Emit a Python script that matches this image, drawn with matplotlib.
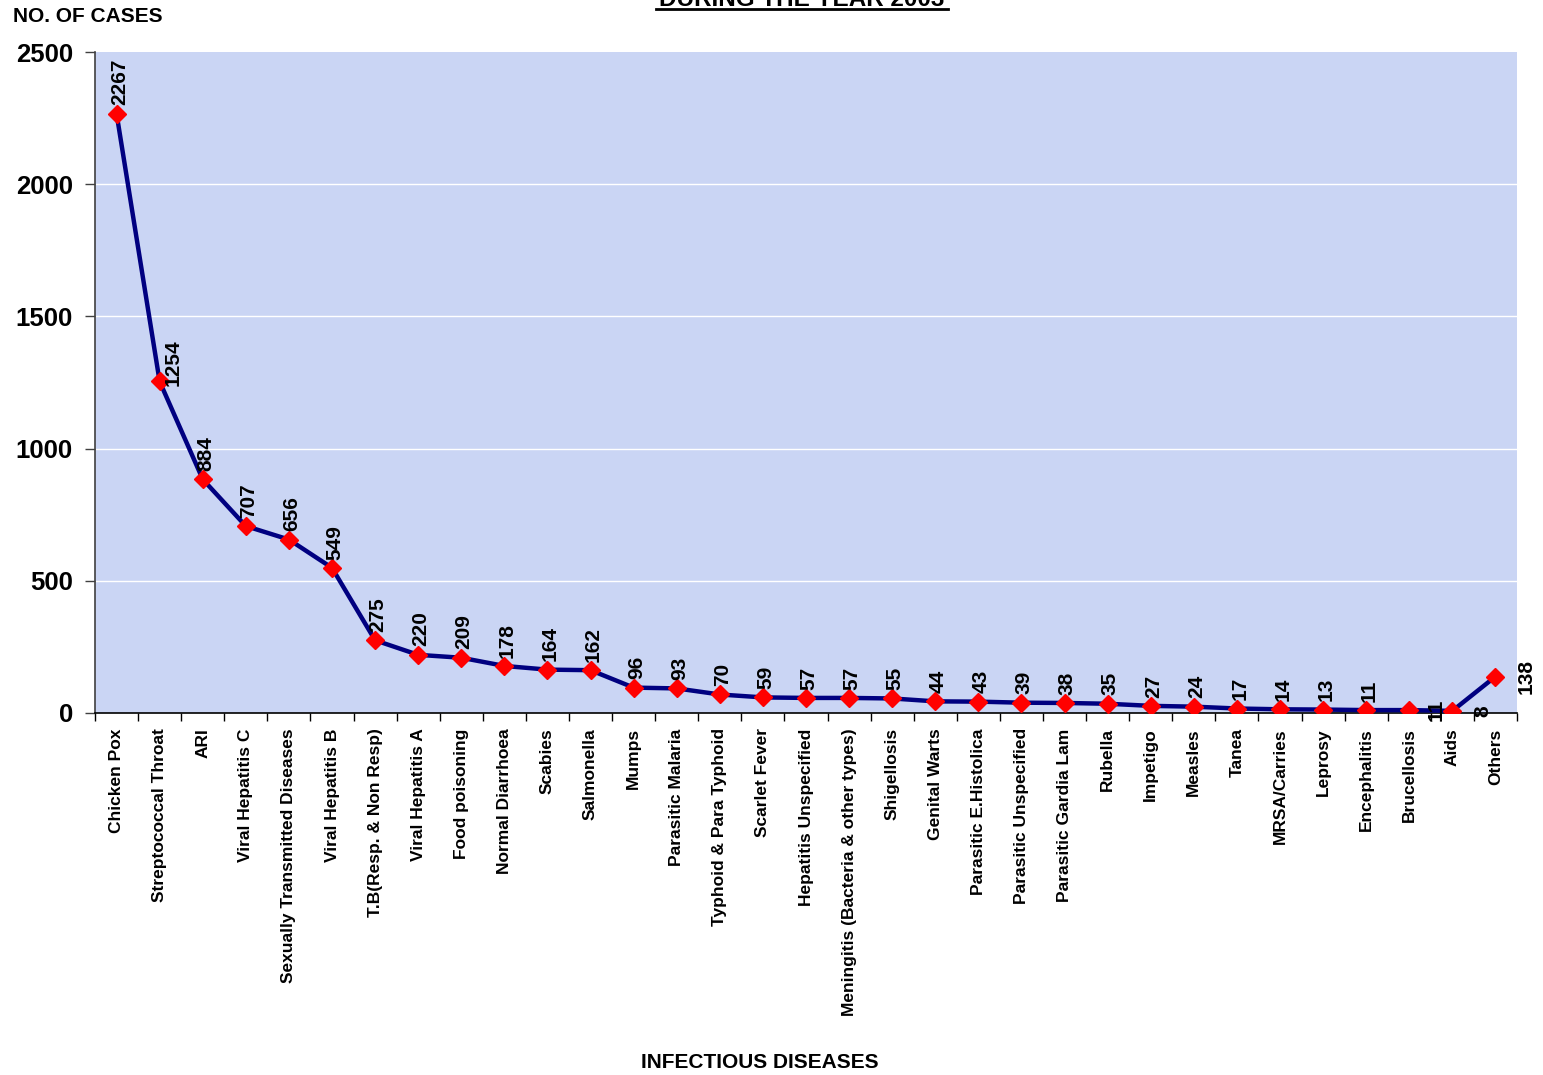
import matplotlib
matplotlib.use("Agg")
import matplotlib.pyplot as plt
from matplotlib.lines import Line2D
import numpy as np

diseases = ["Chicken Pox", "Streptococcal Throat", "ARI", "Viral Hepatitis C",
            "Sexually Transmitted Diseases", "Viral Hepatitis B", "T.B(Resp. & Non Resp)",
            "Viral Hepatitis A", "Food poisoning", "Normal Diarrhoea", "Scabies",
            "Salmonella", "Mumps", "Parasitic Malaria", "Typhoid & Para Typhoid",
            "Scarlet Fever", "Hepatitis Unspecified", "Meningitis (Bacteria & other types)",
            "Shigellosis", "Genital Warts", "Parasitic E.Histolica", "Parasitic Unspecified",
            "Parasitic Gardia Lam", "Rubella", "Impetigo", "Measles", "Tanea",
            "MRSA/Carries", "Leprosy", "Encephalitis", "Brucellosis", "Aids", "Others"]
cases = [2267, 1254, 884, 707, 656, 549, 275, 220, 209, 178, 164, 162, 96, 93, 70,
         59, 57, 57, 55, 44, 43, 39, 38, 35, 27, 24, 17, 14, 13, 11, 11, 8, 138]
y_ticks = [0, 500, 1000, 1500, 2000, 2500]

FONT = "Liberation Sans"
plt.rcParams['font.family'] = [FONT, 'DejaVu Sans']

fig = plt.figure(figsize=(15.43, 10.75), dpi=100)
ax = fig.add_axes([95/1543, 1 - 713/1075, (1517 - 95)/1543, (713 - 52)/1075])
ax.set_facecolor('#cad5f4')

x = np.arange(len(cases))
ax.set_xlim(-0.5, len(cases) - 0.5)
ax.set_ylim(0, 2500)

for yv in y_ticks[1:-1]:
    ax.axhline(yv, color='white', lw=1.0, zorder=1)

ax.plot(x, cases, color='#000080', lw=3.2, zorder=3)
ax.plot(x, cases, linestyle='none', marker='D', markersize=9.5,
        markerfacecolor='#ff0000', markeredgecolor='#ff0000', zorder=4)

# data labels (rotated); a few are shifted sideways as in the reference
side_offsets = {"Brucellosis": 19, "Aids": 22, "Others": 22}
for i, v in enumerate(cases):
    name = diseases[i]
    if name in side_offsets:
        ax.annotate(str(v), (i, v), xytext=(side_offsets[name], 0), textcoords='offset points',
                    rotation=90, ha='center', va='center', fontsize=15,
                    fontweight='bold', zorder=5, annotation_clip=False)
    else:
        dx = 10 if name == "Streptococcal Throat" else 2
        dy = -3 if name == "Streptococcal Throat" else 6
        ax.annotate(str(v), (i, v), xytext=(dx, dy), textcoords='offset points',
                    rotation=90, ha='center', va='bottom', fontsize=15,
                    fontweight='bold', zorder=5, annotation_clip=False)

ax.set_xticks(x)
ax.set_xticklabels(diseases, rotation=90, fontsize=12.5, fontweight='bold', va='top', ha='center')
ax.tick_params(axis='x', which='major', length=0, pad=11)
ax.set_xticks(np.arange(-0.5, len(cases), 1.0), minor=True)
ax.tick_params(axis='x', which='minor', length=6, width=1, color='black', direction='out')

ax.set_yticks(y_ticks)
ax.set_yticklabels([str(t) for t in y_ticks], fontsize=18.5, fontweight='bold')
ax.tick_params(axis='y', length=7, width=1, color='#404040', pad=9)

for s in ['top', 'right']:
    ax.spines[s].set_visible(False)
ax.spines['left'].set_color('#404040')
ax.spines['left'].set_linewidth(1.2)
ax.spines['bottom'].set_color('black')
ax.spines['bottom'].set_linewidth(1.2)

fig.text(13/1543, 1 - 17/1075, "NO. OF CASES", fontsize=15, fontweight='bold',
         ha='left', va='center')
fig.text(760/1543, 1 - 1062/1075, "INFECTIOUS DISEASES", fontsize=15, fontweight='bold',
         ha='center', va='center')
fig.text(802/1543, 1 - 6/1075, "DURING THE YEAR 2003", fontsize=17.5, fontweight='bold',
         ha='center', va='baseline')
fig.add_artist(Line2D([656/1543, 948/1543], [1 - 9/1075, 1 - 9/1075],
                      transform=fig.transFigure, color='black', lw=2))

fig.savefig("out.png", dpi=100)
